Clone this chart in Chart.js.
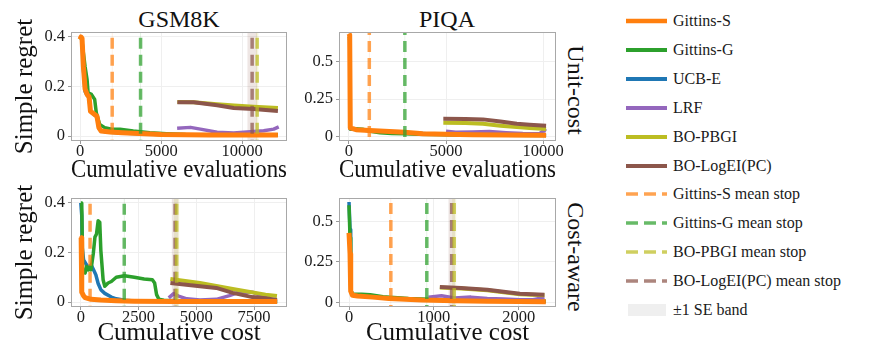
<!DOCTYPE html>
<html><head><meta charset="utf-8">
<script src="https://cdn.jsdelivr.net/npm/chart.js@4.4.1/dist/chart.umd.min.js"></script>
<style>
html,body{margin:0;padding:0;background:#fff;}
body{width:870px;height:346px;position:relative;overflow:hidden;font-family:'Liberation Serif','Times New Roman',serif;color:#111;}
.panel{position:absolute;}
.title{position:absolute;font-family:'Liberation Serif',serif;font-size:24px;line-height:24px;text-align:center;width:200px;}
.rowlab{position:absolute;font-family:'Liberation Serif',serif;font-size:24px;line-height:24px;width:140px;height:24px;text-align:center;transform:rotate(90deg);white-space:nowrap;}
.legrow{position:absolute;left:626px;height:20px;display:flex;align-items:center;white-space:nowrap;font-family:'Liberation Serif',serif;font-size:16px;line-height:20px;color:#1a1a1a;}
.legrow span{margin-left:5px;}
</style></head><body>
<div class="title" style="left:79px;top:7px;">GSM8K</div>
<div class="title" style="left:347px;top:7px;">PIQA</div>
<div class="rowlab" style="left:506px;top:78px;">Unit-cost</div>
<div class="rowlab" style="left:506px;top:245px;">Cost-aware</div>
<div class="panel" style="left:0;top:0;"><canvas id="c1" width="295" height="185"></canvas></div>
<div class="panel" style="left:295px;top:0;"><canvas id="c2" width="270" height="185"></canvas></div>
<div class="panel" style="left:0;top:185px;"><canvas id="c3" width="295" height="161"></canvas></div>
<div class="panel" style="left:295px;top:185px;"><canvas id="c4" width="270" height="161"></canvas></div>
<div id="legend"></div>
<script>
// ---------- DATA ----------
const METHODS = ['Gittins-S','Gittins-G','UCB-E','LRF','BO-PBGI','BO-LogEI(PC)'];
const STOP_LABELS = ['Gittins-S mean stop','Gittins-G mean stop','BO-PBGI mean stop','BO-LogEI(PC) mean stop'];
const BAND_LABEL = '\u00b11 SE band';

// GSM8K, unit cost  (x = cumulative evaluations, y = simple regret)
const GSM_UNIT_X_TICKS = [0, 5000, 10000];
const GSM_UNIT_Y_TICKS = [0, 0.2, 0.4];
const GSM_UNIT_GITTINS_S = [[0,0.39],[60,0.40],[120,0.395],[205,0.28],[308,0.19],[431,0.168],[554,0.158],[640,0.10],[900,0.087],[1040,0.08],[1160,0.034],[1300,0.02],[1850,0.016],[2600,0.013],[3300,0.011],[4000,0.009],[5000,0.006],[6500,0.005],[8000,0.004],[10000,0.004],[12200,0.004]];
const GSM_UNIT_GITTINS_G = [[0,0.40],[100,0.39],[205,0.335],[308,0.28],[431,0.228],[493,0.175],[700,0.168],[900,0.148],[1000,0.094],[1210,0.047],[1520,0.034],[2030,0.027],[2460,0.027],[3280,0.02],[4300,0.013],[5330,0.009],[6500,0.006],[8500,0.005],[10500,0.005],[12200,0.005]];
const GSM_UNIT_UCB_E = [[0,0.39],[120,0.39],[205,0.27],[308,0.18],[431,0.165],[554,0.155],[640,0.10],[900,0.085],[1040,0.078],[1160,0.033],[1300,0.02],[1850,0.015],[2600,0.012],[4000,0.008],[5000,0.006],[8000,0.004],[12200,0.004]];
const GSM_UNIT_LRF = [[5985,0.031],[6805,0.035],[7420,0.028],[8450,0.015],[9475,0.012],[10500,0.017],[11320,0.021],[11940,0.028],[12250,0.037]];
const GSM_UNIT_BO_PBGI = [[6000,0.137],[7000,0.136],[8450,0.128],[9500,0.123],[10700,0.118],[12200,0.113]];
const GSM_UNIT_BO_LOGEI = [[6000,0.136],[7000,0.136],[8450,0.124],[9475,0.113],[10700,0.109],[12200,0.101]];
const GSM_UNIT_STOP_X = [1980, 3730, 10920, 10610];   // Gittins-S, Gittins-G, BO-PBGI, BO-LogEI(PC)
const GSM_UNIT_STOP_SE = [40, 40, 90, 300];

// PIQA, unit cost
const PIQA_UNIT_X_TICKS = [0, 5000, 10000];
const PIQA_UNIT_Y_TICKS = [0, 0.25, 0.5];
const PIQA_UNIT_GITTINS_S = [[0,0.69],[40,0.68],[70,0.057],[370,0.045],[1060,0.039],[2090,0.032],[2860,0.027],[3800,0.018],[5000,0.014],[6370,0.011],[8090,0.009],[10150,0.007]];
const PIQA_UNIT_GITTINS_G = [[0,0.67],[40,0.66],[70,0.05],[300,0.052],[700,0.048],[1100,0.035],[1600,0.025],[2200,0.02],[2900,0.017],[3500,0.015],[4500,0.012],[6000,0.009],[8000,0.007],[10150,0.006]];
const PIQA_UNIT_UCB_E = [[0,0.66],[40,0.65],[70,0.05],[500,0.045],[1100,0.037],[2000,0.03],[3000,0.025],[4000,0.017],[5000,0.013],[7000,0.01],[10150,0.007]];
const PIQA_UNIT_LRF = [[5000,0.034],[5500,0.027],[6370,0.03],[7230,0.032],[8090,0.025],[8950,0.02],[9810,0.018],[10060,0.041],[10150,0.034]];
const PIQA_UNIT_BO_PBGI = [[4860,0.092],[6000,0.09],[6900,0.085],[7800,0.072],[8640,0.062],[9300,0.056],[10150,0.05]];
const PIQA_UNIT_BO_LOGEI = [[4860,0.118],[6000,0.117],[6900,0.114],[7800,0.10],[8640,0.084],[9300,0.078],[10150,0.072]];
const PIQA_UNIT_STOP_X = [1050, 2880, null, null];
const PIQA_UNIT_STOP_SE = [30, 30, 0, 0];

// GSM8K, cost-aware  (x = cumulative cost)
const GSM_COST_X_TICKS = [0, 2500, 5000, 7500];
const GSM_COST_Y_TICKS = [0, 0.2, 0.4];
const GSM_COST_GITTINS_S = [[0,0.26],[15,0.26],[30,0.10],[50,0.04],[120,0.025],[185,0.018],[440,0.011],[866,0.008],[1534,0.005],[2315,0.003],[4000,0.002],[6000,0.002],[8500,0.002]];
const GSM_COST_GITTINS_G = [[0,0.40],[40,0.40],[80,0.13],[185,0.117],[255,0.143],[326,0.13],[400,0.143],[440,0.13],[540,0.196],[611,0.262],[680,0.275],[750,0.328],[820,0.322],[866,0.21],[965,0.09],[1037,0.064],[1180,0.077],[1321,0.083],[1534,0.10],[1889,0.106],[2315,0.10],[2741,0.093],[3096,0.09],[3195,0.077],[3280,0.03],[3380,0.011],[3593,0.007],[4500,0.004],[6000,0.003],[8500,0.002]];
const GSM_COST_UCB_E = [[0,0.40],[40,0.35],[60,0.22],[120,0.17],[250,0.15],[350,0.14],[450,0.15],[550,0.13],[650,0.11],[750,0.075],[866,0.05],[1037,0.035],[1321,0.02],[1534,0.013],[1889,0.007],[2315,0.004],[3000,0.003],[8500,0.002]];
const GSM_COST_LRF = [[3806,0.017],[4018,0.034],[4231,0.024],[4586,0.013],[5155,0.008],[5865,0.011],[6433,0.026],[6859,0.04],[7427,0.04],[7853,0.024],[8279,0.008],[8490,0.004]];
const GSM_COST_BO_PBGI = [[3877,0.093],[5155,0.077],[6575,0.053],[7995,0.03],[8490,0.024]];
const GSM_COST_BO_LOGEI = [[3877,0.077],[5155,0.064],[5865,0.057],[6575,0.037],[7427,0.02],[7995,0.015],[8490,0.008]];
const GSM_COST_STOP_X = [400, 1880, 4150, 4080];
const GSM_COST_STOP_SE = [20, 30, 120, 150];

// PIQA, cost-aware
const PIQA_COST_X_TICKS = [0, 1000, 2000];
const PIQA_COST_Y_TICKS = [0, 0.25, 0.5];
const PIQA_COST_GITTINS_S = [[0,0.43],[12,0.30],[20,0.07],[40,0.045],[100,0.04],[280,0.033],[470,0.025],[860,0.015],[1250,0.01],[1630,0.007],[2000,0.006],[2320,0.005]];
const PIQA_COST_GITTINS_G = [[0,0.60],[12,0.40],[20,0.08],[40,0.05],[150,0.05],[250,0.048],[400,0.035],[700,0.025],[940,0.02],[1200,0.014],[1600,0.01],[2000,0.008],[2320,0.007]];
const PIQA_COST_UCB_E = [[0,0.62],[12,0.45],[20,0.08],[40,0.05],[200,0.04],[400,0.03],[800,0.018],[1200,0.012],[1600,0.009],[2000,0.007],[2320,0.006]];
const PIQA_COST_LRF = [[936,0.033],[1090,0.041],[1245,0.027],[1437,0.033],[1630,0.025],[1823,0.021],[2015,0.017],[2170,0.017],[2304,0.031]];
const PIQA_COST_BO_PBGI = [[1071,0.092],[1322,0.086],[1630,0.075],[2015,0.05],[2304,0.044]];
const PIQA_COST_BO_LOGEI = [[1071,0.095],[1322,0.089],[1630,0.079],[2015,0.054],[2304,0.048]];
const PIQA_COST_STOP_X = [493, 917, 1240, 1210];
const PIQA_COST_STOP_SE = [8, 8, 25, 40];

// ---------- STYLE ----------
const FONT = "'Liberation Serif','Times New Roman',serif";
const LINE_COLORS = ['#ff7f0e','#2ca02c','#1f77b4','#9467bd','#bcbd22','#8c564b'];
const LINE_WIDTHS = [5, 3.5, 3.5, 3.5, 4, 4];
const STOP_COLORS = ['rgba(255,127,14,0.72)','rgba(44,160,44,0.72)','rgba(188,189,34,0.72)','rgba(140,86,75,0.72)'];
const BAND_COLORS = ['rgba(255,127,14,0.12)','rgba(44,160,44,0.12)','rgba(188,189,34,0.15)','rgba(140,86,75,0.15)'];
const DRAW_ORDER = [0, 5, 4, 3, 1, 2]; // first = on top
const TXT = '#1a1a1a';

Chart.defaults.font.family = FONT;
Chart.defaults.color = TXT;

const borderPlugin = {
  id: 'panelBorder',
  afterDraw(chart) {
    const {ctx, chartArea: a} = chart;
    ctx.save();
    ctx.strokeStyle = '#a8a8a8';
    ctx.lineWidth = 1;
    ctx.strokeRect(Math.round(a.left) + 0.5, Math.round(a.top) + 0.5, Math.round(a.right - a.left) - 1, Math.round(a.bottom - a.top) - 1);
    ctx.restore();
  }
};

function toXY(arr) { return arr.map(p => ({x: p[0], y: p[1]})); }

function panel(id, cfg) {
  const ds = [];
  cfg.stops.forEach((v, i) => {
    if (v == null) return;
    ds.push({data: [{x: v, y: cfg.yMin - 1}, {x: v, y: cfg.yMax + 1}], borderColor: STOP_COLORS[i],
      borderWidth: 3.5, borderDash: [11, 6], pointRadius: 0, clip: 0, fill: false});
  });
  DRAW_ORDER.forEach(m => {
    const arr = cfg.series[m];
    if (!arr) return;
    ds.push({data: toXY(arr), borderColor: LINE_COLORS[m], borderWidth: LINE_WIDTHS[m],
      pointRadius: 0, tension: 0, borderJoinStyle: 'round', fill: false});
  });
  cfg.stops.forEach((v, i) => {
    if (v == null || !cfg.se[i]) return;
    const se = cfg.se[i];
    ds.push({data: [{x: v - se, y: cfg.yMax + 1}, {x: v + se, y: cfg.yMax + 1}], borderWidth: 0,
      pointRadius: 0, fill: {value: cfg.yMin - 1}, backgroundColor: BAND_COLORS[i]});
  });
  const grid = {color: '#efefef', lineWidth: 1, tickColor: '#9a9a9a', tickLength: 3, drawTicks: true};
  new Chart(document.getElementById(id), {
    type: 'line',
    data: {datasets: ds},
    plugins: [borderPlugin],
    options: {
      responsive: false, animation: false, devicePixelRatio: 1,
      layout: {padding: cfg.padding},
      plugins: {legend: {display: false}, tooltip: {enabled: false}},
      scales: {
        x: {type: 'linear', min: cfg.xMin, max: cfg.xMax,
          afterBuildTicks: s => { s.ticks = cfg.xTicks.map(v => ({value: v})); },
          afterFit: s => { s.height = cfg.xH; },
          ticks: {callback: v => String(v), font: {family: FONT, size: 16.5}, color: TXT, padding: -2, maxRotation: 0, autoSkip: false},
          grid: grid, border: {display: false},
          title: {display: true, text: cfg.xTitle, color: '#111', font: {family: FONT, size: 25, lineHeight: 1}, padding: {top: 0, bottom: cfg.xTitlePad}}
        },
        y: {type: 'linear', min: cfg.yMin, max: cfg.yMax,
          afterBuildTicks: s => { s.ticks = cfg.yTicks.map(v => ({value: v})); },
          afterFit: s => { s.width = cfg.yW; },
          ticks: {callback: v => String(v), font: {family: FONT, size: 16.5}, color: TXT, padding: 3, autoSkip: false},
          grid: grid, border: {display: false},
          title: cfg.yTitle ? {display: true, text: cfg.yTitle, color: '#111', font: {family: FONT, size: 25, lineHeight: 1}, padding: {top: 12.5, bottom: 0}} : {display: false}
        }
      }
    }
  });
}

panel('c1', {
  series: [GSM_UNIT_GITTINS_S, GSM_UNIT_GITTINS_G, GSM_UNIT_UCB_E, GSM_UNIT_LRF, GSM_UNIT_BO_PBGI, GSM_UNIT_BO_LOGEI],
  stops: GSM_UNIT_STOP_X, se: GSM_UNIT_STOP_SE, xTicks: GSM_UNIT_X_TICKS, yTicks: GSM_UNIT_Y_TICKS,
  xMin: -560, xMax: 12760, yMin: -0.02, yMax: 0.42,
  padding: {top: 32, right: 8, left: 0, bottom: 0}, yW: 71, xH: 44, xTitlePad: 2.5,
  xTitle: 'Cumulative evaluations', yTitle: 'Simple regret'
});
panel('c2', {
  series: [PIQA_UNIT_GITTINS_S, PIQA_UNIT_GITTINS_G, PIQA_UNIT_UCB_E, PIQA_UNIT_LRF, PIQA_UNIT_BO_PBGI, PIQA_UNIT_BO_LOGEI],
  stops: PIQA_UNIT_STOP_X, se: PIQA_UNIT_STOP_SE, xTicks: PIQA_UNIT_X_TICKS, yTicks: PIQA_UNIT_Y_TICKS,
  xMin: -510, xMax: 10660, yMin: -0.031, yMax: 0.70,
  padding: {top: 32, right: 9, left: 0, bottom: 0}, yW: 44, xH: 44, xTitlePad: 2.5,
  xTitle: 'Cumulative evaluations', yTitle: null
});
panel('c3', {
  series: [GSM_COST_GITTINS_S, GSM_COST_GITTINS_G, GSM_COST_UCB_E, GSM_COST_LRF, GSM_COST_BO_PBGI, GSM_COST_BO_LOGEI],
  stops: GSM_COST_STOP_X, se: GSM_COST_STOP_SE, xTicks: GSM_COST_X_TICKS, yTicks: GSM_COST_Y_TICKS,
  xMin: -425, xMax: 8925, yMin: -0.02, yMax: 0.42,
  padding: {top: 13, right: 8, left: 0, bottom: 0}, yW: 71, xH: 39, xTitlePad: 0,
  xTitle: 'Cumulative cost', yTitle: 'Simple regret'
});
panel('c4', {
  series: [PIQA_COST_GITTINS_S, PIQA_COST_GITTINS_G, PIQA_COST_UCB_E, PIQA_COST_LRF, PIQA_COST_BO_PBGI, PIQA_COST_BO_LOGEI],
  stops: PIQA_COST_STOP_X, se: PIQA_COST_STOP_SE, xTicks: PIQA_COST_X_TICKS, yTicks: PIQA_COST_Y_TICKS,
  xMin: -118, xMax: 2440, yMin: -0.028, yMax: 0.645,
  padding: {top: 13, right: 9, left: 0, bottom: 0}, yW: 44, xH: 39, xTitlePad: 0,
  xTitle: 'Cumulative cost', yTitle: null
});

// ---------- LEGEND ----------
const legend = document.getElementById('legend');
const ROW_Y0 = 21, ROW_STEP = 28.9;
const items = [];
METHODS.forEach((m, i) => items.push({label: m, kind: 'line', color: LINE_COLORS[i], w: i === 0 ? 4.5 : 4}));
STOP_LABELS.forEach((m, i) => items.push({label: m, kind: 'dash', color: STOP_COLORS[i], w: 3.5}));
items.push({label: BAND_LABEL, kind: 'band', color: '#efefef'});
items.forEach((it, k) => {
  const row = document.createElement('div');
  row.className = 'legrow';
  row.style.top = (ROW_Y0 + k * ROW_STEP - 10) + 'px';
  let svg;
  if (it.kind === 'band') {
    svg = `<svg width="42" height="20"><rect x="2" y="4" width="38" height="12" fill="${it.color}"/></svg>`;
  } else {
    const dash = it.kind === 'dash' ? ' stroke-dasharray="12 6"' : '';
    svg = `<svg width="42" height="20"><line x1="0" y1="10" x2="41" y2="10" stroke="${it.color}" stroke-width="${it.w}"${dash}/></svg>`;
  }
  row.innerHTML = svg + `<span>${it.label}</span>`;
  legend.appendChild(row);
});
</script>
</body></html>
